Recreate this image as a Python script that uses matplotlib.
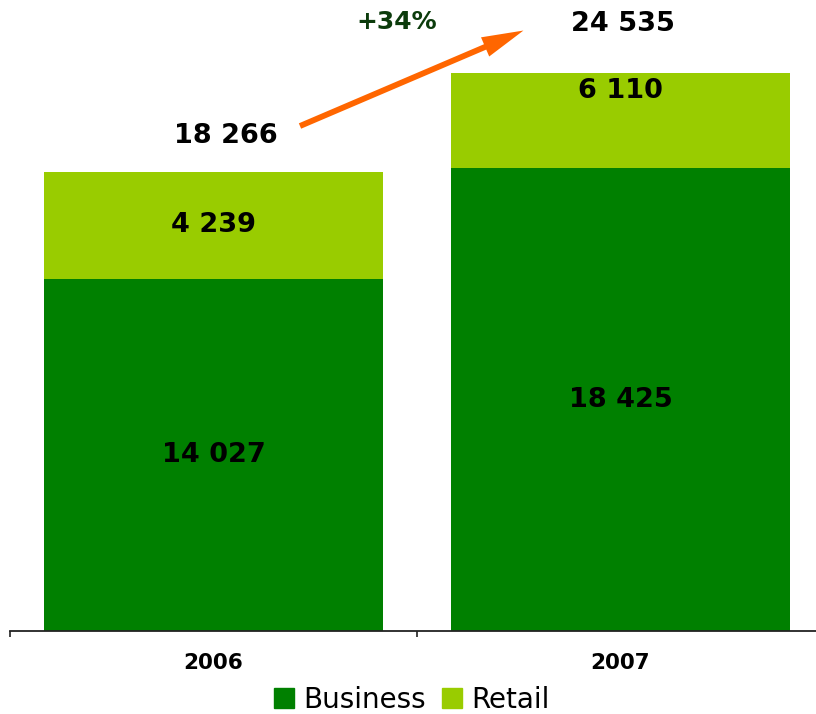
import matplotlib
matplotlib.use("Agg")
import matplotlib.pyplot as plt
from matplotlib.patches import FancyArrowPatch, Patch
import numpy as np

# ---- data ----
years = ["2006", "2007"]
business = [14027, 18425]
retail = [4239, 6110]
totals = [18266, 24535]
growth_label = "+34%"

# ---- styles / layout ----
c_business = "#008000"
c_retail = "#99CC00"
W, H = 816, 714
fig = plt.figure(figsize=(W / 100, H / 100), dpi=100)
ax = fig.add_axes([10 / W, 83 / H, 814 / W, 558 / H])

x = np.arange(len(years))
bw = 0.835
ax.bar(x, business, bw, color=c_business, label="Business", zorder=2)
ax.bar(x, retail, bw, bottom=business, color=c_retail, label="Retail", zorder=2)

ax.set_xlim(-0.5, len(years) - 0.5)
ax.set_ylim(0, 22210)

for s in ["top", "right", "left"]:
    ax.spines[s].set_visible(False)
ax.spines["bottom"].set_color("#222222")
ax.spines["bottom"].set_linewidth(1.3)
ax.set_yticks([])
ax.set_xticks(np.arange(-0.5, len(years), 1.0))
ax.set_xticklabels([])
ax.tick_params(axis="x", which="major", direction="out", length=4, width=1.2, color="#222222")
ax.set_xticks(x, minor=True)
ax.set_xticklabels(years, minor=True, fontsize=15.5, fontweight="bold")
ax.tick_params(axis="x", which="minor", length=0, pad=16)

# segment labels
for i in range(len(years)):
    ax.text(x[i], business[i] / 2, f"{business[i]:,}".replace(",", " "),
            ha="center", va="center", fontsize=19.5, fontweight="bold", color="black", zorder=3)
    ax.text(x[i], business[i] + retail[i] / 2, f"{retail[i]:,}".replace(",", " "),
            ha="center", va="center", fontsize=19.5, fontweight="bold", color="black", zorder=3)

# total labels (positions are layout)
total_pos = [(0.03, 19700), (1.006, 24165)]
for (tx, ty), t in zip(total_pos, totals):
    ax.text(tx, ty, f"{t:,}".replace(",", " "), ha="center", va="center",
            fontsize=19.5, fontweight="bold", color="black", clip_on=False)

# growth arrow
arrow = FancyArrowPatch((0.2125, 20100), (0.7615, 23900),
                        arrowstyle="simple,head_length=30,head_width=15,tail_width=4.2",
                        mutation_scale=1, facecolor="#FF6600", edgecolor="none", lw=0,
                        shrinkA=0, shrinkB=0, clip_on=False, zorder=4)
ax.add_patch(arrow)
ax.text(0.451, 24245, growth_label, ha="center", va="center", fontsize=18,
        fontweight="bold", color="#0B3B0B", clip_on=False)

# legend
handles = [Patch(color=c_business), Patch(color=c_retail)]
fig.legend(handles, ["Business", "Retail"], loc="center",
           bbox_to_anchor=(412 / W, 1 - 700 / H), ncol=2, frameon=False,
           fontsize=20, handlelength=0.72, handleheight=0.72,
           handletextpad=0.32, columnspacing=0.6, borderpad=0)

fig.savefig("out.png", dpi=100)
